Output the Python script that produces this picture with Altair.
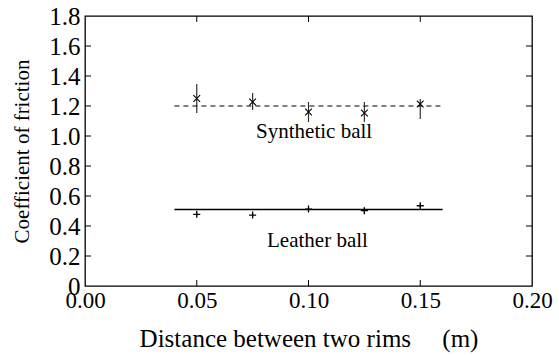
import altair as alt
import pandas as pd

# ---- data ----
dist = [0.05, 0.075, 0.10, 0.125, 0.15]
synthetic = [1.25, 1.227, 1.16, 1.153, 1.213]
synthetic_lo = [1.153, 1.173, 1.093, 1.093, 1.113]
synthetic_hi = [1.347, 1.287, 1.227, 1.227, 1.247]
leather = [0.478, 0.473, 0.513, 0.502, 0.535]
leather_lo = [0.468, 0.463, 0.503, 0.482, 0.525]
leather_hi = [0.488, 0.483, 0.523, 0.522, 0.545]
fit_x = [0.04, 0.16]
synthetic_fit = 1.20
leather_fit = 0.51
x_ticks = [0.0, 0.05, 0.10, 0.15, 0.20]
y_ticks = [0.0, 0.2, 0.4, 0.6, 0.8, 1.0, 1.2, 1.4, 1.6, 1.8]
label_text = ["Synthetic ball", "Leather ball"]
label_x = [0.1025, 0.104]
label_y = [1.03, 0.30]

W, H = 447, 270
FONT = "Liberation Serif"

pts = pd.DataFrame({
    "d": dist * 2,
    "mu": synthetic + leather,
    "lo": synthetic_lo + leather_lo,
    "hi": synthetic_hi + leather_hi,
    "ball": ["Synthetic"] * 5 + ["Leather"] * 5,
})
fits = pd.DataFrame({
    "x1": [fit_x[0]] * 2, "x2": [fit_x[1]] * 2,
    "mu": [synthetic_fit, leather_fit], "ball": ["Synthetic", "Leather"],
})
labels = pd.DataFrame({"t": label_text, "x": label_x, "y": label_y})
xt = pd.DataFrame({"v": x_ticks[1:-1]})
yt = pd.DataFrame({"v": y_ticks[1:-1]})

xscale = alt.Scale(domain=[0, 0.2], nice=False, zero=False)
yscale = alt.Scale(domain=[0, 1.8], nice=False, zero=False)

xaxis = alt.Axis(values=x_ticks, format=".2f", ticks=False, domain=False, grid=False,
                 labelFontSize=23, labelPadding=3, labelFont=FONT, titleFont=FONT,
                 labelColor="black", titleColor="black",
                 title="Distance between two rims\u00a0\u00a0\u00a0\u00a0\u00a0(m)",
                 titleFontSize=25, titleFontWeight="normal", titlePadding=14, labelFlush=False)
yaxis = alt.Axis(values=y_ticks, ticks=False, domain=False, grid=False,
                 labelExpr="datum.value == 0 ? '0' : format(datum.value, '.1f')",
                 labelFont=FONT, titleFont=FONT, labelColor="black", titleColor="black",
                 labelFontSize=25, labelPadding=5, title="Coefficient of friction",
                 titleFontSize=21, titleFontWeight="normal", titlePadding=16, labelFlush=False)

X = alt.X("d:Q", scale=xscale, axis=xaxis)
Y = alt.Y("mu:Q", scale=yscale, axis=yaxis)

syn = alt.datum.ball == "Synthetic"
lea = alt.datum.ball == "Leather"

err = alt.Chart(pts).mark_rule(color="#333333", strokeWidth=1.2).encode(
    x=X, y=alt.Y("lo:Q", scale=yscale, axis=yaxis), y2="hi:Q")

cross_path = "M-1,-1L1,1M-1,1L1,-1"
plus_path = "M-1,0L1,0M0,-1L0,1"

syn_pts = alt.Chart(pts).transform_filter(syn).mark_point(
    shape=cross_path, size=45, filled=False, color="black", strokeWidth=1.1, opacity=1
).encode(x=X, y=Y)
lea_pts = alt.Chart(pts).transform_filter(lea).mark_point(
    shape=plus_path, size=50, filled=False, color="black", strokeWidth=1.3, opacity=1
).encode(x=X, y=Y)

syn_fit = alt.Chart(fits).transform_filter(syn).mark_rule(
    color="black", strokeWidth=1.2, strokeDash=[5, 4]
).encode(x=alt.X("x1:Q", scale=xscale, axis=xaxis), x2="x2:Q", y=Y)
lea_fit = alt.Chart(fits).transform_filter(lea).mark_rule(
    color="black", strokeWidth=1.5
).encode(x=alt.X("x1:Q", scale=xscale, axis=xaxis), x2="x2:Q", y=Y)

txt = alt.Chart(labels).mark_text(
    font=FONT, fontSize=21, color="black", baseline="middle", align="center"
).encode(x=alt.X("x:Q", scale=xscale, axis=xaxis), y=alt.Y("y:Q", scale=yscale, axis=yaxis), text="t:N")

TL = 6
xb = alt.Chart(xt).mark_rule(color="black").encode(
    x=alt.X("v:Q", scale=xscale, axis=xaxis), y=alt.value(H), y2=alt.value(H - TL))
xtp = alt.Chart(xt).mark_rule(color="black").encode(
    x=alt.X("v:Q", scale=xscale, axis=xaxis), y=alt.value(0), y2=alt.value(TL))
yl = alt.Chart(yt).mark_rule(color="black").encode(
    y=alt.Y("v:Q", scale=yscale, axis=yaxis), x=alt.value(0), x2=alt.value(TL))
yr = alt.Chart(yt).mark_rule(color="black").encode(
    y=alt.Y("v:Q", scale=yscale, axis=yaxis), x=alt.value(W), x2=alt.value(W - TL))

chart = alt.layer(
    err, syn_fit, lea_fit, syn_pts, lea_pts, txt, xb, xtp, yl, yr
).properties(
    width=W, height=H,
    padding={"left": 85, "top": 16, "right": 27, "bottom": 69},
    autosize=alt.AutoSizeParams(type="none"),
    background="white",
).configure_view(
    stroke="black", strokeWidth=1.3
)

chart.save("out.html", embed_options={"renderer": "svg", "actions": False})
